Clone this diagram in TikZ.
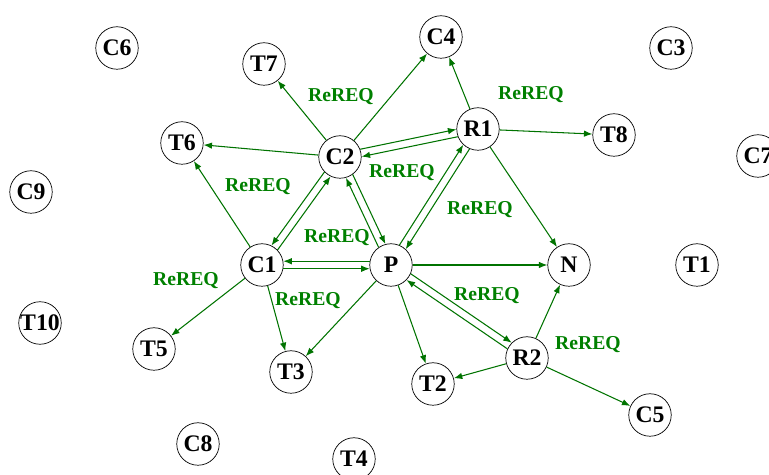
\documentclass[tikz,border=0pt]{standalone}
\usepackage{fontspec}
\setmainfont{Liberation Serif}
\usetikzlibrary{arrows.meta}
\definecolor{ReqGreen}{RGB}{0,128,0}
\definecolor{LinkGreen}{RGB}{0,115,0}

\begin{document}
\begin{tikzpicture}[x=0.02cm, y=-0.02cm,
  host/.style={draw, circle, minimum size=0.85cm, inner sep=0pt, font=\fontsize{13.5}{15}\selectfont\bfseries},
  req/.style={-{Latex[length=1.7mm,width=1.3mm]}, LinkGreen, line width=0.6pt},
  tag/.style={text=ReqGreen, font=\fontsize{11.2}{13}\selectfont\bfseries}]
  \useasboundingbox (0,0) rectangle (769,475);
  % hosts
  \node[host] (P) at (391,265) {P};
  \node[host] (C1) at (262,265) {C1};
  \node[host] (C2) at (340,157) {C2};
  \node[host] (R1) at (478,129) {R1};
  \node[host] (R2) at (527,358) {R2};
  \node[host] (N) at (569,265) {N};
  \node[host] (C3) at (671,48) {C3};
  \node[host] (C4) at (441,37) {C4};
  \node[host] (C5) at (650,415) {C5};
  \node[host] (C6) at (117,48) {C6};
  \node[host] (C7) at (758,156) {C7};
  \node[host] (C8) at (198,444) {C8};
  \node[host] (C9) at (31,192) {C9};
  \node[host] (T1) at (697,265) {T1};
  \node[host] (T2) at (433,384) {T2};
  \node[host] (T3) at (291,372) {T3};
  \node[host] (T4) at (354,459) {T4};
  \node[host] (T5) at (154,349) {T5};
  \node[host] (T6) at (182,143) {T6};
  \node[host] (T7) at (264,64) {T7};
  \node[host] (T8) at (614,135) {T8};
  \node[host] (T10) at (40,323) {T10};
  % paired requests
  \draw[req] (P.170) -- (C1.10);
  \draw[req] (C1.-10) -- (P.190);
  \draw[req] (C1.44.2) -- (C2.244.2);
  \draw[req] (C2.224.2) -- (C1.64.2);
  \draw[req] (C2.-54.7) -- (P.105.3);
  \draw[req] (P.125.3) -- (C2.-74.7);
  \draw[req] (C2.21.5) -- (R1.181.5);
  \draw[req] (R1.201.5) -- (C2.1.5);
  \draw[req] (P.67.4) -- (R1.227.4);
  \draw[req] (R1.247.4) -- (P.47.4);
  \draw[req] (P.-24.4) -- (R2.135.6);
  \draw[req] (R2.155.6) -- (P.-44.4);
  % single requests
  \draw[req] (C2) -- (T7);
  \draw[req] (C2) -- (C4);
  \draw[req] (C2) -- (T6);
  \draw[req] (R1) -- (C4);
  \draw[req] (R1) -- (T8);
  \draw[req] (R1) -- (N);
  \draw[req] (C1) -- (T6);
  \draw[req] (C1) -- (T5);
  \draw[req] (C1) -- (T3);
  \draw[req] (P) -- (N);
  \draw[req] (P) -- (T3);
  \draw[req] (P) -- (T2);
  \draw[req] (R2) -- (N);
  \draw[req] (R2) -- (T2);
  \draw[req] (R2) -- (C5);
  % labels
  \node[tag] at (341,97) {ReREQ};
  \node[tag] at (531,95) {ReREQ};
  \node[tag] at (258,187) {ReREQ};
  \node[tag] at (402,173) {ReREQ};
  \node[tag] at (480,210) {ReREQ};
  \node[tag] at (337,238) {ReREQ};
  \node[tag] at (186,281) {ReREQ};
  \node[tag] at (308,301) {ReREQ};
  \node[tag] at (487,296) {ReREQ};
  \node[tag] at (588,345) {ReREQ};
\end{tikzpicture}
\end{document}
